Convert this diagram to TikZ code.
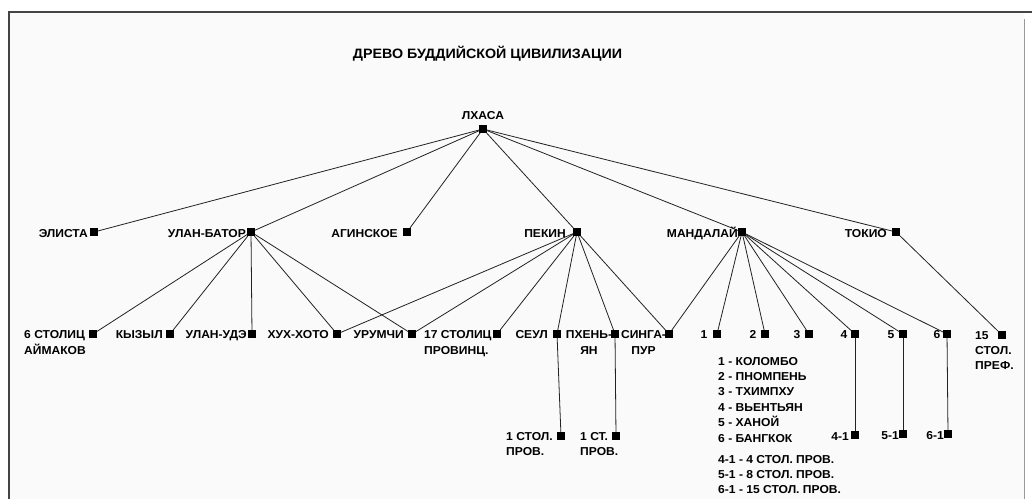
\documentclass[tikz,border=0pt]{standalone}
\usepackage{fontspec}
\setmainfont[FakeStretch=1.05]{Liberation Sans}
\definecolor{bgpanel}{HTML}{FAFAFA}
\definecolor{linecol}{HTML}{222222}
\definecolor{framecol}{HTML}{444444}
\definecolor{rframe}{HTML}{999999}
\begin{document}
\begin{tikzpicture}[x=1pt,y=-1pt,
  sq/.style={fill=black, minimum size=8pt, inner sep=0pt, outer sep=0pt},
  lbl/.style={font=\bfseries\fontsize{11.5}{16}\selectfont, inner sep=0pt, text=black},
  link/.style={draw=linecol, line width=0.8pt}]
\useasboundingbox (0,0) rectangle (1032,499);
\fill[white] (0,0) rectangle (1032,499);
% frame
\fill[bgpanel] (9,12) rectangle (1024,499);
\draw[framecol, line width=1.6pt] (9,499) -- (9,12) -- (1032,12);
\draw[rframe, line width=1pt] (1024,19) -- (1024,499);
% title
\node[font=\bfseries\fontsize{13.6}{15}\selectfont, inner sep=0pt, anchor=base] (title) at (487.5,58) {ДРЕВО БУДДИЙСКОЙ ЦИВИЛИЗАЦИИ};
% level 0
\node[sq] (lhasa) at (483,129) {};
% level 1
\node[sq] (elista) at (94,232) {};
\node[sq] (ulanbator) at (251,232) {};
\node[sq] (aginskoe) at (407,232) {};
\node[sq] (pekin) at (577,232) {};
\node[sq] (mandalay) at (742,232) {};
\node[sq] (tokio) at (896,232) {};
% level 2
\node[sq] (aimak) at (93,334) {};
\node[sq] (kyzyl) at (170,334) {};
\node[sq] (ulanude) at (252,334) {};
\node[sq] (huhhoto) at (337,334) {};
\node[sq] (urumchi) at (412,334) {};
\node[sq] (stol17) at (497,334) {};
\node[sq] (seul) at (557,334) {};
\node[sq] (phenyan) at (615,334) {};
\node[sq] (singapur) at (669,334) {};
\node[sq] (m1) at (717,334) {};
\node[sq] (m2) at (765,334) {};
\node[sq] (m3) at (809,334) {};
\node[sq] (m4) at (855,334) {};
\node[sq] (m5) at (903,334) {};
\node[sq] (m6) at (947,334) {};
\node[sq] (pref15) at (1002,335) {};
% level 3
\node[sq] (seulprov) at (561,436) {};
\node[sq] (phprov) at (616,436) {};
\node[sq] (m41) at (855,435) {};
\node[sq] (m51) at (903,434) {};
\node[sq] (m61) at (948,434) {};
% connectors
\foreach \t in {elista,ulanbator,aginskoe,pekin,mandalay,tokio}
  \draw[link] (lhasa) -- (\t);
\foreach \t in {aimak,kyzyl,ulanude,huhhoto,urumchi}
  \draw[link] (ulanbator) -- (\t);
\foreach \t in {huhhoto,urumchi,stol17,seul,phenyan,singapur}
  \draw[link] (pekin) -- (\t);
\foreach \t in {singapur,m1,m2,m3,m4,m5,m6}
  \draw[link] (mandalay) -- (\t);
\draw[link] (tokio) -- (pref15);
\draw[link] (seul) -- (seulprov);
\draw[link] (phenyan) -- (phprov);
\draw[link] (m4) -- (m41);
\draw[link] (m5) -- (m51);
\draw[link] (m6) -- (m61);
% labels
\node[lbl, anchor=base] (lhasaL) at (483,119) {ЛХАСА};
\node[lbl, anchor=base east] (elistaL) at (88,237) {ЭЛИСТА};
\node[lbl, anchor=base east] (ulanbatorL) at (246,237) {УЛАН-БАТОР};
\node[lbl, anchor=base east] (aginskoeL) at (398,237) {АГИНСКОЕ};
\node[lbl, anchor=base east] (pekinL) at (566,237) {ПЕКИН};
\node[lbl, anchor=base east] (mandalayL) at (738,237) {МАНДАЛАЙ};
\node[lbl, anchor=base east] (tokioL) at (887,237) {ТОКИО};
\node[lbl, anchor=base west, align=left] (aimakL) at (24,354) {6 СТОЛИЦ\\АЙМАКОВ};
\node[lbl, anchor=base east] (kyzylL) at (163,338) {КЫЗЫЛ};
\node[lbl, anchor=base east] (ulanudeL) at (247,338) {УЛАН-УДЭ};
\node[lbl, anchor=base east] (huhhotoL) at (329,338) {ХУХ-ХОТО};
\node[lbl, anchor=base east] (urumchiL) at (404,338) {УРУМЧИ};
\node[lbl, anchor=base west, align=left] (stol17L) at (424,354) {17 СТОЛИЦ\\ПРОВИНЦ.};
\node[lbl, anchor=base east] (seulL) at (548,338) {СЕУЛ};
\node[lbl, anchor=base, align=center] (phenyanL) at (589,354) {ПХЕНЬ-\\ЯН};
\node[lbl, anchor=base, align=center] (singapurL) at (643.5,354) {СИНГА-\\ПУР};
\node[lbl, anchor=base] (m1L) at (704,338) {1};
\node[lbl, anchor=base] (m2L) at (753,338) {2};
\node[lbl, anchor=base] (m3L) at (797,338) {3};
\node[lbl, anchor=base] (m4L) at (844,338) {4};
\node[lbl, anchor=base] (m5L) at (891,338) {5};
\node[lbl, anchor=base] (m6L) at (937,338) {6};
\node[lbl, anchor=base west, align=left, font=\bfseries\fontsize{11.5}{15}\selectfont] (pref15L) at (975,369) {15\\СТОЛ.\\ПРЕФ.};
\node[lbl, anchor=base west, align=left, font=\bfseries\fontsize{11.5}{15}\selectfont] (seulprovL) at (506,455) {1 СТОЛ.\\ПРОВ.};
\node[lbl, anchor=base west, align=left, font=\bfseries\fontsize{11.5}{15}\selectfont] (phprovL) at (580,455) {1 СТ.\\ПРОВ.};
\node[lbl, anchor=base east] (m41L) at (849,440) {4-1};
\node[lbl, anchor=base east] (m51L) at (899,439) {5-1};
\node[lbl, anchor=base east] (m61L) at (944,439) {6-1};
\node[lbl, anchor=base west, align=left, font=\bfseries\fontsize{11.5}{15.4}\selectfont] (legend1) at (718,442) {1 - КОЛОМБО\\2 - ПНОМПЕНЬ\\3 - ТХИМПХУ\\4 - ВЬЕНТЬЯН\\5 - ХАНОЙ\\6 - БАНГКОК};
\node[lbl, anchor=base west, align=left, font=\bfseries\fontsize{11.5}{15}\selectfont] (legend2) at (718,493) {4-1 - 4 СТОЛ. ПРОВ.\\5-1 - 8 СТОЛ. ПРОВ.\\6-1 - 15 СТОЛ. ПРОВ.};
\end{tikzpicture}
\end{document}
